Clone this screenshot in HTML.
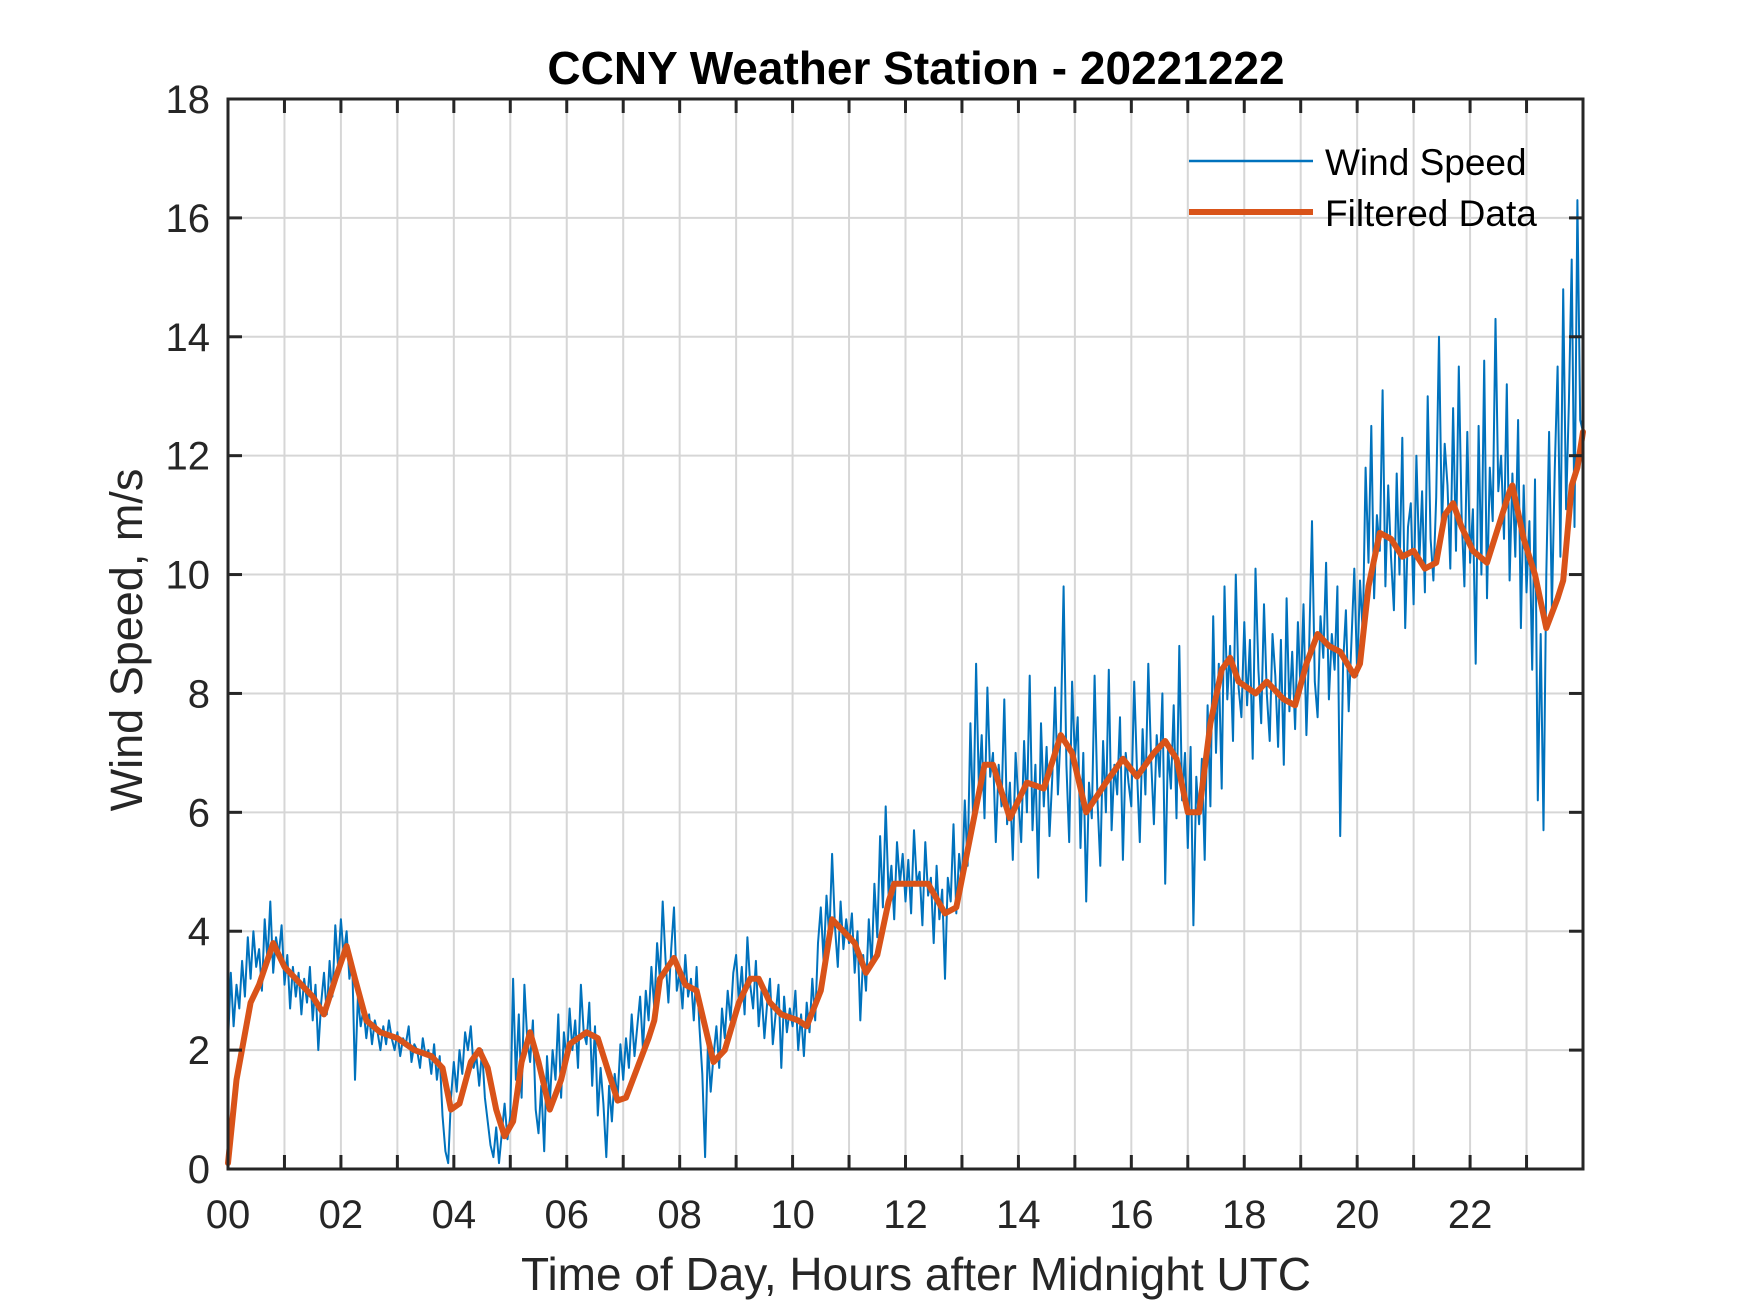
<!DOCTYPE html>
<html><head><meta charset="utf-8">
<style>
html,body{margin:0;padding:0;background:#fff;}
svg{display:block;}
text{font-family:"Liberation Sans",Arial,sans-serif;fill:#262626;}
</style></head>
<body>
<svg id="chart" width="1750" height="1313" viewBox="0 0 1750 1313" xmlns="http://www.w3.org/2000/svg">
<rect width="1750" height="1313" fill="#fff"/>
<g id="grid"></g>
<g id="series"></g>
<g id="axes"></g>
<text x="916" y="84" text-anchor="middle" font-size="46" font-weight="bold" style="fill:#000">CCNY Weather Station - 20221222</text>
<text x="916" y="1290" text-anchor="middle" font-size="46">Time of Day, Hours after Midnight UTC</text>
<text transform="translate(142,640) rotate(-90)" text-anchor="middle" font-size="45">Wind Speed, m/s</text>
<g>
<line x1="1189" y1="161" x2="1313" y2="161" stroke="#0072BD" stroke-width="2.5"/>
<text x="1325" y="175" font-size="37" style="fill:#000">Wind Speed</text>
<line x1="1189" y1="212" x2="1313" y2="212" stroke="#D95319" stroke-width="6"/>
<text x="1325" y="226" font-size="37" style="fill:#000">Filtered Data</text>
</g>
</svg>
<script>
const xTicks = [0,2,4,6,8,10,12,14,16,18,20,22];
const xTickLabels = ["00","02","04","06","08","10","12","14","16","18","20","22"];
const yTicks = [0,2,4,6,8,10,12,14,16,18];
const rawStep = 0.05;
const rawValues = [
2.1,3.3,2.4,3.1,2.7,3.5,2.9,3.9,3.2,4.0,3.4,3.7,3.0,4.2,3.5,4.5,3.3,3.9,3.6,4.1,
3.1,3.6,2.7,3.4,2.9,3.3,2.6,3.2,2.8,3.4,2.5,3.1,2.0,2.8,3.3,2.6,3.5,2.9,4.1,3.4,
4.2,3.6,4.0,3.2,3.5,1.5,2.9,2.4,2.7,2.2,2.6,2.1,2.5,2.3,2.0,2.4,2.1,2.5,2.2,2.0,
2.3,1.9,2.2,2.1,2.4,1.8,2.1,2.0,1.7,2.2,1.9,2.0,1.6,2.1,1.5,1.9,0.9,0.3,0.1,1.2,
1.8,1.3,2.0,1.6,2.3,2.0,2.4,1.7,1.9,1.4,2.0,1.2,0.8,0.4,0.2,0.7,0.1,0.6,1.1,0.5,
0.9,3.2,1.5,2.6,1.2,3.1,2.2,1.8,2.5,1.0,0.6,1.4,0.3,1.9,1.1,2.0,1.5,2.6,1.2,2.3,
1.8,2.7,2.0,2.5,1.7,3.1,2.3,2.1,2.8,1.4,2.4,0.9,1.7,1.1,0.2,1.4,0.8,1.6,1.2,2.1,
1.5,2.2,1.7,2.6,1.9,2.4,2.9,2.0,3.0,2.5,3.4,2.7,3.8,3.2,4.5,3.5,2.8,3.7,4.4,3.0,
3.3,2.7,3.6,2.9,3.2,2.5,3.4,2.4,1.6,0.2,2.1,1.3,1.9,2.4,1.7,2.7,2.2,3.0,2.5,3.3,
3.6,2.8,3.4,2.6,3.9,3.1,2.7,3.5,2.4,3.0,2.2,2.8,3.2,2.1,2.6,3.1,1.7,2.9,2.3,2.7,
2.4,3.0,2.0,2.6,1.9,2.8,2.3,3.2,2.5,3.8,4.4,3.5,4.6,3.9,5.3,4.1,3.4,4.5,3.7,4.2,
3.8,4.3,3.3,4.0,2.5,3.6,3.0,4.2,3.4,4.8,3.9,5.6,4.4,6.1,4.6,5.1,4.2,5.5,4.8,5.3,
4.5,5.2,4.3,5.7,4.8,5.0,4.1,5.5,4.6,4.9,3.8,5.1,4.2,4.7,3.2,4.9,4.5,5.8,4.3,5.3,
4.8,6.2,5.1,7.5,5.8,8.5,6.4,7.3,5.9,8.1,6.6,7.0,5.5,6.8,6.1,7.9,5.8,6.5,5.2,7.0,
6.2,5.5,7.2,6.0,8.3,5.7,6.8,4.9,7.5,6.1,7.1,5.6,6.6,8.1,6.3,7.4,9.8,6.8,5.5,8.2,
6.9,7.6,5.4,7.0,4.5,6.5,5.9,8.3,6.2,5.1,7.2,6.0,8.4,5.7,6.8,6.3,7.6,5.2,7.0,6.5,
6.1,8.2,6.7,5.5,7.4,6.3,8.5,6.9,5.8,7.3,6.6,8.0,4.8,7.1,6.4,7.8,5.9,8.8,6.2,7.0,
5.4,7.1,4.1,6.6,5.8,6.9,5.2,7.8,6.1,9.3,7.0,8.5,6.4,9.8,7.9,8.8,7.2,10.0,8.1,7.6,
9.2,7.8,8.9,6.9,10.1,8.4,7.5,9.5,8.0,7.2,9.0,8.3,7.1,8.9,6.8,9.6,7.7,8.7,7.4,9.2,
8.0,9.5,7.3,8.8,10.9,8.2,7.6,9.3,8.6,10.2,7.9,9.0,8.4,9.8,5.6,8.5,9.4,7.7,8.9,10.1,
8.3,9.9,9.0,11.8,10.2,12.5,9.6,11.0,10.4,13.1,9.8,11.5,10.3,9.4,11.7,10.0,12.3,9.1,10.8,11.2,
9.5,12.0,10.2,11.4,9.7,13.0,10.6,9.9,11.3,14.0,10.8,12.2,11.5,10.1,12.8,10.4,13.5,11.0,9.8,12.4,
10.2,11.1,8.5,12.5,10.0,13.6,9.6,11.8,10.9,14.3,11.4,12.0,10.6,13.2,9.9,11.7,10.3,12.6,9.1,11.5,
9.7,10.9,8.4,11.6,6.2,9.0,5.7,10.0,12.4,9.4,11.8,13.5,10.3,14.8,11.1,12.9,15.3,10.8,16.3,12.6,
12.4];
const filtHours = [0,0.15,0.4,0.55,0.8,1.0,1.3,1.5,1.7,1.9,2.1,2.25,2.45,2.7,3.0,3.3,3.6,3.8,3.95,4.1,4.3,4.45,4.6,4.75,4.9,5.05,5.2,5.35,5.5,5.7,5.9,6.05,6.35,6.55,6.75,6.9,7.05,7.25,7.45,7.55,7.65,7.9,8.1,8.3,8.6,8.8,9.05,9.25,9.4,9.6,9.8,10.1,10.25,10.5,10.7,10.9,11.1,11.3,11.5,11.7,11.8,12.4,12.7,12.9,13.4,13.55,13.85,14.15,14.45,14.75,14.95,15.2,15.55,15.85,16.1,16.4,16.6,16.8,17.0,17.2,17.4,17.6,17.75,17.9,18.2,18.4,18.7,18.9,19.1,19.3,19.5,19.7,19.95,20.05,20.2,20.4,20.6,20.8,21.0,21.2,21.4,21.55,21.7,21.85,22.05,22.3,22.5,22.7,22.75,22.95,23.15,23.35,23.55,23.65,23.8,23.9,24.0];
const filtValues = [0.1,1.5,2.8,3.1,3.8,3.4,3.1,2.9,2.6,3.2,3.75,3.2,2.5,2.3,2.2,2.0,1.9,1.7,1.0,1.1,1.8,2.0,1.7,1.0,0.55,0.8,1.8,2.3,1.8,1.0,1.5,2.1,2.3,2.2,1.6,1.15,1.2,1.7,2.2,2.5,3.2,3.55,3.1,3.0,1.8,2.0,2.8,3.2,3.2,2.8,2.6,2.5,2.4,3.0,4.2,4.0,3.8,3.3,3.6,4.5,4.8,4.8,4.3,4.4,6.8,6.8,5.9,6.5,6.4,7.3,7.0,6.0,6.5,6.9,6.6,7.0,7.2,6.9,6.0,6.0,7.5,8.4,8.6,8.2,8.0,8.2,7.9,7.8,8.5,9.0,8.8,8.7,8.3,8.5,9.8,10.7,10.6,10.3,10.4,10.1,10.2,11.0,11.2,10.8,10.4,10.2,10.8,11.4,11.5,10.6,10.0,9.1,9.6,9.9,11.5,11.8,12.4];

const L=228,R=1583,T=99,B=1169,XMAX=24,YMAX=18;
const xs=h=>L+(h/XMAX)*(R-L);
const ys=v=>B-(v/YMAX)*(B-T);
const NS="http://www.w3.org/2000/svg";
function mk(tag,parent,attrs){const e=document.createElementNS(NS,tag);for(const k in attrs)e.setAttribute(k,attrs[k]);parent.appendChild(e);return e;}
const grid=document.getElementById('grid'),series=document.getElementById('series'),axes=document.getElementById('axes');
for(let h=1;h<XMAX;h++){
  const gl=mk('line',grid,{x1:xs(h),y1:T,x2:xs(h),y2:B,stroke:'#d6d6d6','stroke-width':2});
  
  
}
yTicks.forEach(v=>{
  const gl=mk('line',grid,{x1:L,y1:ys(v),x2:R,y2:ys(v),stroke:'#d6d6d6','stroke-width':2});
  
  
});
let d='';
rawValues.forEach((v,i)=>{d+=(i?'L':'M')+xs(Math.min(i*rawStep,XMAX)).toFixed(1)+','+ys(v).toFixed(1);});
const raw=mk('path',series,{d:d,fill:'none',stroke:'#0072BD','stroke-width':2,'stroke-linejoin':'round'});


let d2='';
filtValues.forEach((v,i)=>{d2+=(i?'L':'M')+xs(filtHours[i]).toFixed(1)+','+ys(v).toFixed(1);});
const filt=mk('path',series,{d:d2,fill:'none',stroke:'#D95319','stroke-width':6,'stroke-linejoin':'round','stroke-linecap':'round'});


const box=mk('rect',axes,{x:L,y:T,width:R-L,height:B-T,fill:'none',stroke:'#262626','stroke-width':3});


for(let h=1;h<XMAX;h++){
  const t1=mk('line',axes,{x1:xs(h),y1:B,x2:xs(h),y2:B-14,stroke:'#262626','stroke-width':3});
  
  
  const t2=mk('line',axes,{x1:xs(h),y1:T,x2:xs(h),y2:T+14,stroke:'#262626','stroke-width':3});
  
  
}
xTicks.forEach((h,i)=>{
  const t=mk('text',axes,{x:xs(h),y:1228,'text-anchor':'middle','font-size':40});
  t.textContent=xTickLabels[i];
  
  
});
yTicks.forEach(v=>{
  const t1=mk('line',axes,{x1:L,y1:ys(v),x2:L+14,y2:ys(v),stroke:'#262626','stroke-width':3});
  
  
  const t2=mk('line',axes,{x1:R,y1:ys(v),x2:R-14,y2:ys(v),stroke:'#262626','stroke-width':3});
  
  
  const t=mk('text',axes,{x:L-18,y:ys(v)+14,'text-anchor':'end','font-size':40});
  t.textContent=String(v);
  
  
});
</script>
</body></html>
